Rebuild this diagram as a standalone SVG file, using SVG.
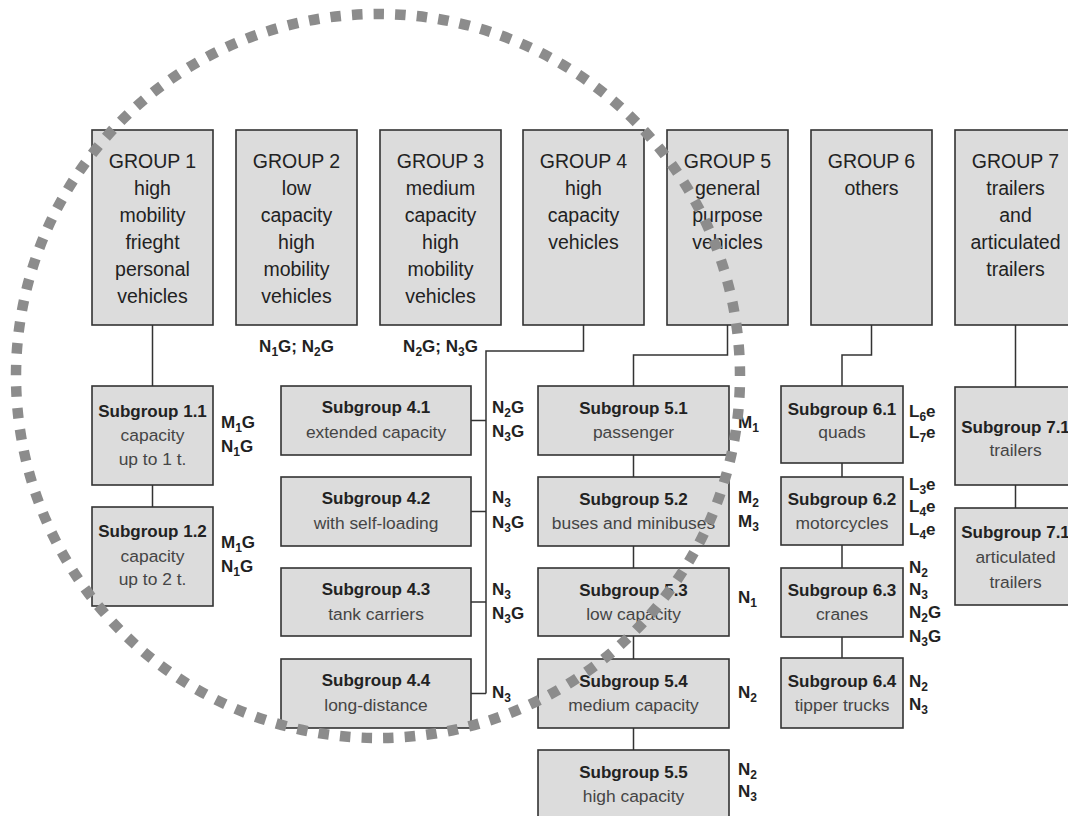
<svg xmlns="http://www.w3.org/2000/svg" width="1068" height="816" viewBox="0 0 1068 816">
<style>
text{font-family:"Liberation Sans",Arial,sans-serif}
.box{fill:#dcdcdc;stroke:#333;stroke-width:1.6}
.gt{font-size:19.5px;fill:#222;text-anchor:middle}
.st{font-size:17px;font-weight:bold;fill:#222;text-anchor:middle}
.ss{font-size:17.4px;fill:#454545;text-anchor:middle}
.lb{font-size:17px;font-weight:bold;fill:#222}
.lc{font-size:17px;font-weight:bold;fill:#222;text-anchor:middle}
.sb{font-size:12px}
.con{fill:none;stroke:#333;stroke-width:1.5}
.circ{fill:none;stroke:#8c8c8c;stroke-width:10.5;stroke-dasharray:10.5 11.16;stroke-dashoffset:10.4}
</style>
<rect width="1068" height="816" fill="#fff"/>
<g id="connectors">
<path class="con" d="M152.5 325V386M152.5 485V507"/>
<path class="con" d="M583.5 325V351H486V693.5M471 420.5H486M471 511.5H486M471 602H486M471 693.5H486"/>
<path class="con" d="M727.5 325V355H633.5V386M633.5 455V477M633.5 546V568M633.5 636V659M633.5 728V750"/>
<path class="con" d="M871.5 325V355H842V386M842 463V477M842 545V568M842 637V658"/>
<path class="con" d="M1015.5 325V387M1015.5 485V508"/>
</g>
<g id="group1"><rect class="box" x="92" y="130" width="121" height="195"/>
<text class="gt" x="152.5" y="168">GROUP 1</text><text class="gt" x="152.5" y="195">high</text><text class="gt" x="152.5" y="222">mobility</text><text class="gt" x="152.5" y="249">frieght</text><text class="gt" x="152.5" y="276">personal</text><text class="gt" x="152.5" y="303">vehicles</text></g>
<g id="group2"><rect class="box" x="236" y="130" width="121" height="195"/>
<text class="gt" x="296.5" y="168">GROUP 2</text><text class="gt" x="296.5" y="195">low</text><text class="gt" x="296.5" y="222">capacity</text><text class="gt" x="296.5" y="249">high</text><text class="gt" x="296.5" y="276">mobility</text><text class="gt" x="296.5" y="303">vehicles</text>
<text class="lc" x="296.5" y="352">N<tspan class="sb" dy="4">1</tspan><tspan dy="-4">G; N</tspan><tspan class="sb" dy="4">2</tspan><tspan dy="-4">G</tspan></text></g>
<g id="group3"><rect class="box" x="380" y="130" width="121" height="195"/>
<text class="gt" x="440.5" y="168">GROUP 3</text><text class="gt" x="440.5" y="195">medium</text><text class="gt" x="440.5" y="222">capacity</text><text class="gt" x="440.5" y="249">high</text><text class="gt" x="440.5" y="276">mobility</text><text class="gt" x="440.5" y="303">vehicles</text>
<text class="lc" x="440.5" y="352">N<tspan class="sb" dy="4">2</tspan><tspan dy="-4">G; N</tspan><tspan class="sb" dy="4">3</tspan><tspan dy="-4">G</tspan></text></g>
<g id="group4"><rect class="box" x="523" y="130" width="121" height="195"/>
<text class="gt" x="583.5" y="168">GROUP 4</text><text class="gt" x="583.5" y="195">high</text><text class="gt" x="583.5" y="222">capacity</text><text class="gt" x="583.5" y="249">vehicles</text></g>
<g id="group5"><rect class="box" x="667" y="130" width="121" height="195"/>
<text class="gt" x="727.5" y="168">GROUP 5</text><text class="gt" x="727.5" y="195">general</text><text class="gt" x="727.5" y="222">purpose</text><text class="gt" x="727.5" y="249">vehicles</text></g>
<g id="group6"><rect class="box" x="811" y="130" width="121" height="195"/>
<text class="gt" x="871.5" y="168">GROUP 6</text><text class="gt" x="871.5" y="195">others</text></g>
<g id="group7"><rect class="box" x="955" y="130" width="121" height="195"/>
<text class="gt" x="1015.5" y="168">GROUP 7</text><text class="gt" x="1015.5" y="195">trailers</text><text class="gt" x="1015.5" y="222">and</text><text class="gt" x="1015.5" y="249">articulated</text><text class="gt" x="1015.5" y="276">trailers</text></g>

<g id="sub1-1"><rect class="box" x="92" y="386" width="121" height="99"/>
<text class="st" x="152.5" y="417">Subgroup 1.1</text><text class="ss" x="152.5" y="441">capacity</text><text class="ss" x="152.5" y="465">up to 1 t.</text>
<text class="lb" x="221" y="428">M<tspan class="sb" dy="4">1</tspan><tspan dy="-4">G</tspan></text><text class="lb" x="221" y="452">N<tspan class="sb" dy="4">1</tspan><tspan dy="-4">G</tspan></text></g>
<g id="sub1-2"><rect class="box" x="92" y="507" width="121" height="99"/>
<text class="st" x="152.5" y="537">Subgroup 1.2</text><text class="ss" x="152.5" y="562">capacity</text><text class="ss" x="152.5" y="585">up to 2 t.</text>
<text class="lb" x="221" y="548">M<tspan class="sb" dy="4">1</tspan><tspan dy="-4">G</tspan></text><text class="lb" x="221" y="572">N<tspan class="sb" dy="4">1</tspan><tspan dy="-4">G</tspan></text></g>

<g id="sub4-1"><rect class="box" x="281" y="386" width="190" height="69"/>
<text class="st" x="376" y="413">Subgroup 4.1</text><text class="ss" x="376" y="438">extended capacity</text>
<text class="lb" x="492" y="413">N<tspan class="sb" dy="4">2</tspan><tspan dy="-4">G</tspan></text><text class="lb" x="492" y="437">N<tspan class="sb" dy="4">3</tspan><tspan dy="-4">G</tspan></text></g>
<g id="sub4-2"><rect class="box" x="281" y="477" width="190" height="69"/>
<text class="st" x="376" y="504">Subgroup 4.2</text><text class="ss" x="376" y="529">with self-loading</text>
<text class="lb" x="492" y="503">N<tspan class="sb" dy="4">3</tspan></text><text class="lb" x="492" y="528">N<tspan class="sb" dy="4">3</tspan><tspan dy="-4">G</tspan></text></g>
<g id="sub4-3"><rect class="box" x="281" y="568" width="190" height="68"/>
<text class="st" x="376" y="595">Subgroup 4.3</text><text class="ss" x="376" y="620">tank carriers</text>
<text class="lb" x="492" y="595">N<tspan class="sb" dy="4">3</tspan></text><text class="lb" x="492" y="619">N<tspan class="sb" dy="4">3</tspan><tspan dy="-4">G</tspan></text></g>
<g id="sub4-4"><rect class="box" x="281" y="659" width="190" height="69"/>
<text class="st" x="376" y="686">Subgroup 4.4</text><text class="ss" x="376" y="711">long-distance</text>
<text class="lb" x="492" y="698">N<tspan class="sb" dy="4">3</tspan></text></g>

<g id="sub5-1"><rect class="box" x="538" y="386" width="191" height="69"/>
<text class="st" x="633.5" y="414">Subgroup 5.1</text><text class="ss" x="633.5" y="438">passenger</text>
<text class="lb" x="738" y="428">M<tspan class="sb" dy="4">1</tspan></text></g>
<g id="sub5-2"><rect class="box" x="538" y="477" width="191" height="69"/>
<text class="st" x="633.5" y="505">Subgroup 5.2</text><text class="ss" x="633.5" y="529">buses and minibuses</text>
<text class="lb" x="738" y="503">M<tspan class="sb" dy="4">2</tspan></text><text class="lb" x="738" y="527">M<tspan class="sb" dy="4">3</tspan></text></g>
<g id="sub5-3"><rect class="box" x="538" y="568" width="191" height="68"/>
<text class="st" x="633.5" y="596">Subgroup 5.3</text><text class="ss" x="633.5" y="620">low capacity</text>
<text class="lb" x="738" y="603">N<tspan class="sb" dy="4">1</tspan></text></g>
<g id="sub5-4"><rect class="box" x="538" y="659" width="191" height="69"/>
<text class="st" x="633.5" y="687">Subgroup 5.4</text><text class="ss" x="633.5" y="711">medium capacity</text>
<text class="lb" x="738" y="698">N<tspan class="sb" dy="4">2</tspan></text></g>
<g id="sub5-5"><rect class="box" x="538" y="750" width="191" height="69"/>
<text class="st" x="633.5" y="778">Subgroup 5.5</text><text class="ss" x="633.5" y="802">high capacity</text>
<text class="lb" x="738" y="775">N<tspan class="sb" dy="4">2</tspan></text><text class="lb" x="738" y="797">N<tspan class="sb" dy="4">3</tspan></text></g>

<g id="sub6-1"><rect class="box" x="781" y="386" width="122" height="77"/>
<text class="st" x="842" y="415">Subgroup 6.1</text><text class="ss" x="842" y="438">quads</text>
<text class="lb" x="909" y="417">L<tspan class="sb" dy="4">6</tspan><tspan dy="-4">e</tspan></text><text class="lb" x="909" y="438">L<tspan class="sb" dy="4">7</tspan><tspan dy="-4">e</tspan></text></g>
<g id="sub6-2"><rect class="box" x="781" y="477" width="122" height="68"/>
<text class="st" x="842" y="505">Subgroup 6.2</text><text class="ss" x="842" y="529">motorcycles</text>
<text class="lb" x="909" y="490">L<tspan class="sb" dy="4">3</tspan><tspan dy="-4">e</tspan></text><text class="lb" x="909" y="512">L<tspan class="sb" dy="4">4</tspan><tspan dy="-4">e</tspan></text><text class="lb" x="909" y="535">L<tspan class="sb" dy="4">4</tspan><tspan dy="-4">e</tspan></text></g>
<g id="sub6-3"><rect class="box" x="781" y="568" width="122" height="69"/>
<text class="st" x="842" y="596">Subgroup 6.3</text><text class="ss" x="842" y="620">cranes</text>
<text class="lb" x="909" y="573">N<tspan class="sb" dy="4">2</tspan></text><text class="lb" x="909" y="595">N<tspan class="sb" dy="4">3</tspan></text><text class="lb" x="909" y="618">N<tspan class="sb" dy="4">2</tspan><tspan dy="-4">G</tspan></text><text class="lb" x="909" y="642">N<tspan class="sb" dy="4">3</tspan><tspan dy="-4">G</tspan></text></g>
<g id="sub6-4"><rect class="box" x="781" y="658" width="122" height="70"/>
<text class="st" x="842" y="687">Subgroup 6.4</text><text class="ss" x="842" y="711">tipper trucks</text>
<text class="lb" x="909" y="687">N<tspan class="sb" dy="4">2</tspan></text><text class="lb" x="909" y="710">N<tspan class="sb" dy="4">3</tspan></text></g>

<g id="sub7-1a"><rect class="box" x="955" y="387" width="121" height="98"/>
<text class="st" x="1015.5" y="433">Subgroup 7.1</text><text class="ss" x="1015.5" y="456">trailers</text></g>
<g id="sub7-1b"><rect class="box" x="955" y="508" width="121" height="97"/>
<text class="st" x="1015.5" y="538">Subgroup 7.1</text><text class="ss" x="1015.5" y="563">articulated</text><text class="ss" x="1015.5" y="588">trailers</text></g>

<circle class="circ" cx="378" cy="376" r="362"/>
</svg>
